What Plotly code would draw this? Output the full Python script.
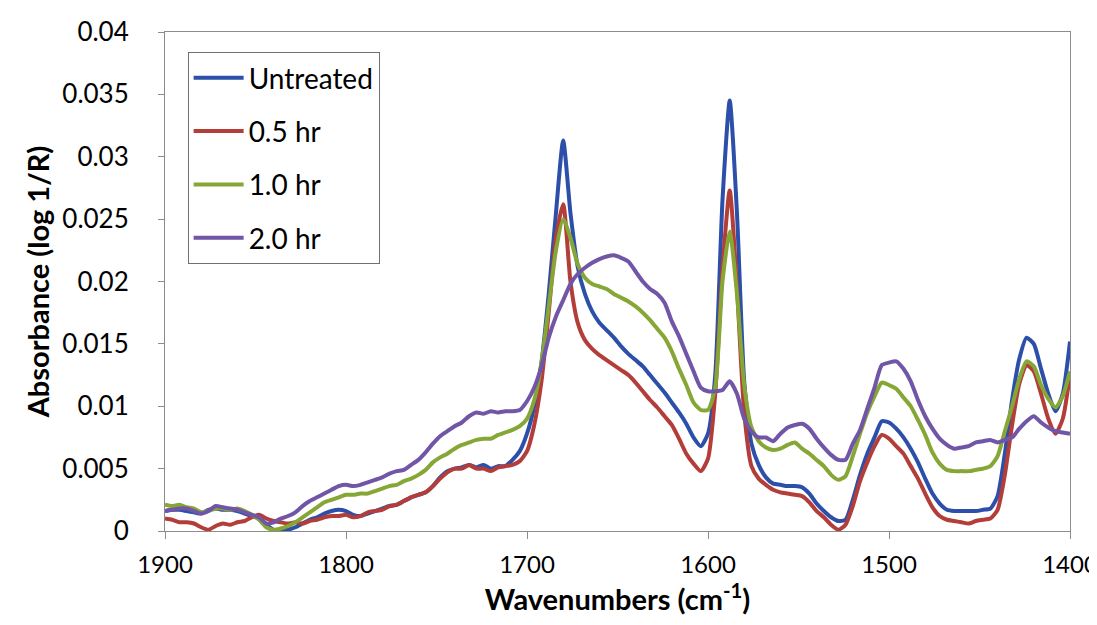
import plotly.graph_objects as go

wavenumbers = [1900, 1896, 1892, 1888, 1884, 1880, 1876, 1872, 1868, 1864, 1860, 1856, 1852, 1848, 1844, 1840,
               1836, 1832, 1828, 1824, 1820, 1816, 1812, 1808, 1804, 1800, 1796, 1792, 1788, 1784, 1780, 1776,
               1772, 1768, 1764, 1760, 1756, 1752, 1748, 1744, 1740, 1736, 1732, 1728, 1724, 1720, 1716, 1712,
               1708, 1704, 1700, 1696, 1692, 1688, 1684, 1680, 1676, 1672, 1668, 1664, 1660, 1656, 1652, 1648,
               1644, 1640, 1636, 1632, 1628, 1624, 1620, 1616, 1612, 1608, 1604, 1600, 1596, 1592, 1588, 1584,
               1580, 1576, 1572, 1568, 1564, 1560, 1556, 1552, 1548, 1544, 1540, 1536, 1532, 1528, 1524, 1520,
               1516, 1512, 1508, 1504, 1500, 1496, 1492, 1488, 1484, 1480, 1476, 1472, 1468, 1464, 1460, 1456,
               1452, 1448, 1444, 1440, 1436, 1432, 1428, 1424, 1420, 1416, 1412, 1408, 1404, 1400]

untreated = [0.0016, 0.0017, 0.0017, 0.0016, 0.0015, 0.0014, 0.0017, 0.0018, 0.0017, 0.0017, 0.0016, 0.0014, 0.0012, 0.0010, 0.0005, 0.0001,
             0.0000, 0.0001, 0.0003, 0.0006, 0.0009, 0.0011, 0.0014, 0.0016, 0.0017, 0.0016, 0.0013, 0.0012, 0.0014, 0.0016, 0.0018, 0.0020,
             0.0021, 0.0024, 0.0027, 0.0029, 0.0031, 0.0036, 0.0043, 0.0048, 0.0050, 0.0051, 0.0053, 0.0051, 0.0053, 0.0050, 0.0052, 0.0052,
             0.0057, 0.0064, 0.0078, 0.0100, 0.0135, 0.0190, 0.0255, 0.0313, 0.0255, 0.0212, 0.0190, 0.0176, 0.0167, 0.0161, 0.0155, 0.0148,
             0.0142, 0.0137, 0.0132, 0.0125, 0.0118, 0.0111, 0.0103, 0.0095, 0.0086, 0.0075, 0.0068, 0.0078, 0.0125, 0.0265, 0.0345, 0.0255,
             0.0120, 0.0070, 0.0053, 0.0043, 0.0038, 0.0037, 0.0036, 0.0036, 0.0035, 0.0030, 0.0022, 0.0016, 0.0011, 0.0008, 0.0009, 0.0025,
             0.0045, 0.0062, 0.0075, 0.0088, 0.0087, 0.0082, 0.0075, 0.0066, 0.0055, 0.0042, 0.0030, 0.0022, 0.0017, 0.0016, 0.0016, 0.0016,
             0.0016, 0.0017, 0.0018, 0.0028, 0.0062, 0.0105, 0.0138, 0.0155, 0.0150, 0.0130, 0.0110, 0.0096, 0.0110, 0.0152]

hr_0_5 = [0.0010, 0.0009, 0.0007, 0.0007, 0.0006, 0.0003, 0.0001, 0.0004, 0.0006, 0.0005, 0.0007, 0.0008, 0.0011, 0.0013, 0.0010, 0.0008,
          0.0007, 0.0006, 0.0007, 0.0006, 0.0008, 0.0009, 0.0011, 0.0012, 0.0012, 0.0013, 0.0011, 0.0012, 0.0015, 0.0016, 0.0017, 0.0020,
          0.0021, 0.0024, 0.0027, 0.0029, 0.0031, 0.0036, 0.0042, 0.0047, 0.0050, 0.0050, 0.0053, 0.0050, 0.0050, 0.0048, 0.0051, 0.0052,
          0.0053, 0.0056, 0.0064, 0.0085, 0.0120, 0.0175, 0.0235, 0.0262, 0.0200, 0.0167, 0.0153, 0.0146, 0.0141, 0.0137, 0.0133, 0.0129,
          0.0125, 0.0119, 0.0112, 0.0105, 0.0099, 0.0092, 0.0085, 0.0074, 0.0062, 0.0054, 0.0048, 0.0058, 0.0110, 0.0210, 0.0273, 0.0195,
          0.0095, 0.0052, 0.0042, 0.0037, 0.0033, 0.0031, 0.0030, 0.0029, 0.0028, 0.0023, 0.0016, 0.0011, 0.0005, 0.0001, 0.0005, 0.0020,
          0.0040, 0.0055, 0.0068, 0.0077, 0.0074, 0.0068, 0.0062, 0.0052, 0.0042, 0.0030, 0.0019, 0.0012, 0.0009, 0.0008, 0.0007, 0.0006,
          0.0008, 0.0009, 0.0010, 0.0017, 0.0045, 0.0085, 0.0118, 0.0133, 0.0128, 0.0110, 0.0090, 0.0078, 0.0090, 0.0126]

hr_1_0 = [0.0021, 0.0020, 0.0021, 0.0019, 0.0018, 0.0015, 0.0016, 0.0018, 0.0018, 0.0017, 0.0018, 0.0016, 0.0013, 0.0009, 0.0003, 0.0001,
          0.0002, 0.0004, 0.0007, 0.0011, 0.0015, 0.0019, 0.0023, 0.0025, 0.0027, 0.0029, 0.0029, 0.0030, 0.0030, 0.0032, 0.0034, 0.0036,
          0.0037, 0.0040, 0.0042, 0.0045, 0.0049, 0.0055, 0.0059, 0.0062, 0.0066, 0.0069, 0.0071, 0.0073, 0.0074, 0.0074, 0.0077, 0.0079,
          0.0081, 0.0084, 0.0090, 0.0105, 0.0135, 0.0180, 0.0225, 0.0250, 0.0235, 0.0214, 0.0203, 0.0198, 0.0196, 0.0194, 0.0190, 0.0187,
          0.0184, 0.0180, 0.0175, 0.0169, 0.0162, 0.0155, 0.0144, 0.0130, 0.0117, 0.0103, 0.0097, 0.0097, 0.0115, 0.0200, 0.0240, 0.0190,
          0.0117, 0.0083, 0.0072, 0.0067, 0.0065, 0.0066, 0.0069, 0.0071, 0.0066, 0.0062, 0.0057, 0.0052, 0.0045, 0.0041, 0.0044, 0.0060,
          0.0078, 0.0095, 0.0108, 0.0119, 0.0117, 0.0114, 0.0107, 0.0100, 0.0089, 0.0077, 0.0063, 0.0054, 0.0049, 0.0048, 0.0048, 0.0048,
          0.0049, 0.0050, 0.0052, 0.0060, 0.0080, 0.0100, 0.0122, 0.0136, 0.0132, 0.0117, 0.0106, 0.0099, 0.0108, 0.0128]

hr_2_0 = [0.0016, 0.0017, 0.0018, 0.0018, 0.0016, 0.0014, 0.0016, 0.0020, 0.0019, 0.0018, 0.0017, 0.0015, 0.0013, 0.0011, 0.0006, 0.0007,
          0.0010, 0.0012, 0.0015, 0.0020, 0.0024, 0.0027, 0.0030, 0.0033, 0.0036, 0.0037, 0.0036, 0.0037, 0.0039, 0.0041, 0.0043, 0.0046,
          0.0048, 0.0049, 0.0053, 0.0057, 0.0063, 0.0070, 0.0076, 0.0080, 0.0084, 0.0087, 0.0092, 0.0095, 0.0094, 0.0096, 0.0095, 0.0096,
          0.0096, 0.0097, 0.0104, 0.0115, 0.0132, 0.0155, 0.0172, 0.0185, 0.0198, 0.0206, 0.0211, 0.0215, 0.0218, 0.0220, 0.0221, 0.0219,
          0.0216, 0.0208, 0.0200, 0.0194, 0.0190, 0.0183, 0.0168, 0.0156, 0.0142, 0.0128, 0.0115, 0.0112, 0.0112, 0.0113, 0.0120, 0.0110,
          0.0090, 0.0080, 0.0075, 0.0075, 0.0072, 0.0078, 0.0083, 0.0085, 0.0086, 0.0082, 0.0074, 0.0067, 0.0061, 0.0057, 0.0057, 0.0070,
          0.0081, 0.0098, 0.0115, 0.0133, 0.0135, 0.0136, 0.0130, 0.0120, 0.0105, 0.0092, 0.0082, 0.0074, 0.0069, 0.0066, 0.0067, 0.0068,
          0.0071, 0.0072, 0.0073, 0.0071, 0.0073, 0.0075, 0.0082, 0.0088, 0.0092, 0.0087, 0.0083, 0.0080, 0.0079, 0.0078]

series_names = ["Untreated", "0.5 hr", "1.0 hr", "2.0 hr"]
series_values = [untreated, hr_0_5, hr_1_0, hr_2_0]
series_colors = ["#2C4FAA", "#B33D39", "#86A636", "#7155A6"]

x_ticks = [1900, 1800, 1700, 1600, 1500, 1400]
y_ticks = [0, 0.005, 0.01, 0.015, 0.02, 0.025, 0.03, 0.035, 0.04]
y_tick_text = ["0", "0.005", "0.01", "0.015", "0.02", "0.025", "0.03", "0.035", "0.04"]

FONT = "Lato, 'Open Sans', sans-serif"

fig = go.Figure()
for name, vals, col in zip(series_names, series_values, series_colors):
    fig.add_trace(go.Scatter(
        x=wavenumbers, y=vals, name=name, mode="lines",
        line=dict(color=col, width=4, shape="spline", smoothing=0.6),
        legendgroup=name,
    ))

axis_line = "#8C8C8C"
fig.update_layout(
    width=1097, height=625,
    margin=dict(l=157, r=35, t=24, b=102, autoexpand=False),
    paper_bgcolor="white", plot_bgcolor="white",
    font=dict(family=FONT, size=26, color="black"),
    showlegend=True,
    legend=dict(
        x=0.025, y=0.96, xanchor="left", yanchor="top",
        bgcolor="white", bordercolor="#707070", borderwidth=1,
        font=dict(family=FONT, size=28, color="black"),
        tracegroupgap=14, itemwidth=50,
    ),
    xaxis=dict(
        range=[1900, 1400], tickvals=x_ticks, ticktext=[str(v) for v in x_ticks],
        showgrid=False, zeroline=False, showline=True, linecolor=axis_line, linewidth=1,
        mirror=True, ticks="outside", ticklen=7, tickcolor=axis_line,
        tickfont=dict(family=FONT, size=24, color="black"),
        ticklabelstandoff=5, automargin=False,
        title=dict(text="<b>Wavenumbers (cm<sup>-1</sup>)</b>", font=dict(family=FONT, size=29, color="black"), standoff=12),
    ),
    yaxis=dict(
        range=[0, 0.04], tickvals=y_ticks, ticktext=y_tick_text,
        showgrid=False, zeroline=False, showline=True, linecolor=axis_line, linewidth=1,
        mirror=True, ticks="outside", ticklen=6, tickcolor=axis_line,
        tickfont=dict(family=FONT, size=26, color="black"),
        ticklabelstandoff=24, automargin=False,
        title=dict(text="<b>Absorbance (log 1/R)</b>", font=dict(family=FONT, size=29, color="black"), standoff=4),
    ),
)

fig.write_html("out.html")
